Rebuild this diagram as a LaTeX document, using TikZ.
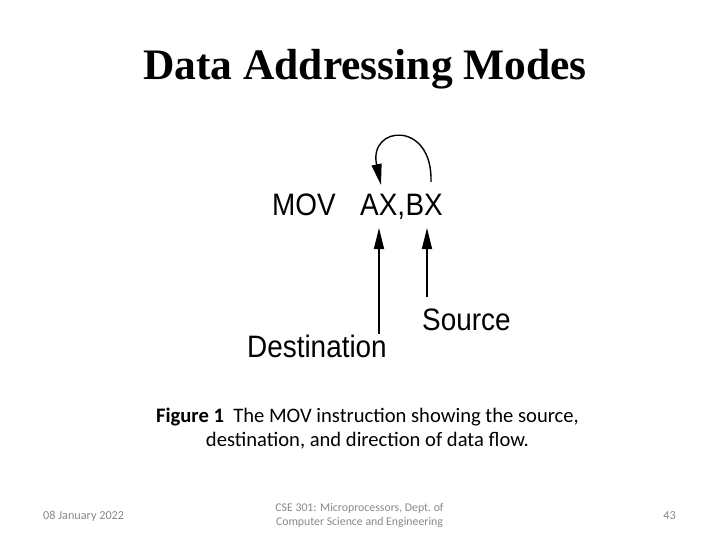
\documentclass[tikz,border=0pt]{standalone}
\usepackage{fontspec}
\setmainfont{Carlito}
\newfontfamily\titlefont{Liberation Serif}
\newfontfamily\figfont{Liberation Sans}
\usepackage{xcolor}
\usepackage{tikz}
\usetikzlibrary{arrows.meta,positioning}
\definecolor{footgray}{HTML}{898989}
\tikzset{
  title/.style={
    anchor=base,
    inner sep=0pt,
    font=\titlefont\bfseries\fontsize{43.5}{50}\selectfont
  },
  operand/.style={
    anchor=base west,
    inner sep=0pt,
    xscale=0.9,
    font=\figfont\fontsize{31}{36}\selectfont
  },
  caption/.style={
    align=center,
    inner sep=0pt,
    font=\fontsize{20.6}{24}\selectfont
  },
  footer/.style={
    align=center,
    inner sep=0pt,
    text=footgray,
    font=\fontsize{11.8}{14}\selectfont
  },
  flow/.style={-{Triangle[length=21pt,width=10pt]}, line width=1.4pt}
}
\begin{document}
\begin{tikzpicture}[x=1pt,y=-1pt]

\useasboundingbox[fill=white] (0,0) rectangle (720,540);

\node[title] (heading) at (365,80) {Data Addressing Modes};

% instruction and its operands
\node[operand] (mov) at (272,215) {MOV};
\node[operand] (ax) at (360,215) {AX,};
\node[operand, right=0pt of ax.base east, anchor=base west] (bx) {BX};

\node[operand] (dest) at (247,357) {Destination};
\node[operand] (src) at (422,330) {Source};

\coordinate (axin) at (379,228);
\coordinate (bxin) at (427,228);
\coordinate (axtop) at (381,185);
\coordinate (bxtop) at (431,182);

\draw[flow] (dest.north -| axin) -- (axin);
\draw[flow] ([yshift=11pt]src.north -| bxin) -- (bxin);
\draw[flow] (bxtop) .. controls (433,120) and (368,125) .. (axtop);

\node[caption] (fig) at (367.5,429) {\textbf{Figure 1}\ \ The MOV instruction showing the source,\\
destination, and direction of data flow.};

% footer
\node[footer, anchor=base west, font=\fontsize{12.2}{14}\selectfont] (date) at (43,519) {08 January 2022};
\node[footer, anchor=base] (course) at (359.5,525) {CSE 301: Microprocessors, Dept.\ of\\
Computer Science and Engineering};
\node[footer, anchor=base east, font=\fontsize{12.2}{14}\selectfont] (page) at (676,519) {43};

\end{tikzpicture}
\end{document}
